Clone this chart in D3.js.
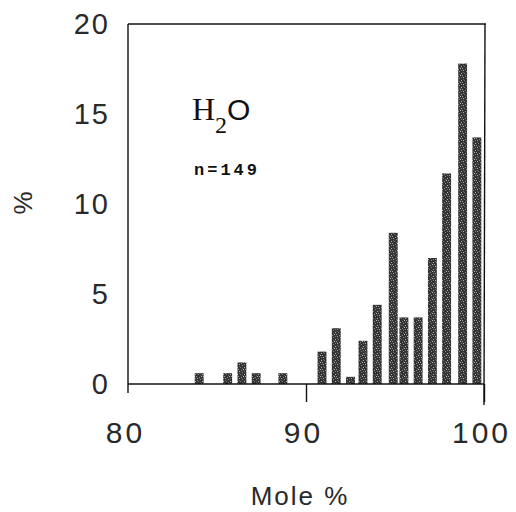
<!DOCTYPE html>
<html>
<head>
<meta charset="utf-8">
<script src="https://cdn.jsdelivr.net/npm/d3@7"></script>
<style>
  body { margin: 0; background: #fff; }
  svg { display: block; }
</style>
</head>
<body>
<div id="chart"></div>
<script>
// bin centres (mole % H2O) and frequency (% of analyses)
var binCenters = [84.0, 85.6, 86.4, 87.2, 88.7, 90.9, 91.7, 92.5, 93.2, 94.0, 94.9, 95.5, 96.3, 97.1, 97.9, 98.8, 99.6];
var frequency  = [0.6, 0.6, 1.2, 0.6, 0.6, 1.8, 3.1, 0.4, 2.4, 4.4, 8.4, 3.7, 3.7, 7.0, 11.7, 17.8, 13.7];
var xTicks = [80, 90, 100];
var yTicks = [0, 5, 10, 15, 20];
var sampleLabel = "n=149";

var width = 516, height = 512;
// plot frame (note: "top" is taken by window.top, so prefix these)
var plotLeft = 128, plotRight = 484, plotTop = 24, plotBottom = 384;
var sans = "Liberation Sans, Arial, sans-serif";

var svg = d3.select("#chart").append("svg")
    .attr("width", width)
    .attr("height", height);

var x = d3.scaleLinear().domain([80, 100]).range([plotLeft, plotRight]);
var y = d3.scaleLinear().domain([0, 20]).range([plotBottom, plotTop]);

// speckled grey fill, like the scanned bars
var defs = svg.append("defs");
var pat = defs.append("pattern")
    .attr("id", "speckle")
    .attr("width", 7).attr("height", 7)
    .attr("patternUnits", "userSpaceOnUse");
pat.append("rect").attr("width", 7).attr("height", 7).attr("fill", "#333");
[[1, 0, "#aaa"], [4, 1, "#888"], [6, 3, "#b0b0b0"], [2, 3, "#777"], [0, 5, "#999"],
 [5, 5, "#bbb"], [3, 6, "#8a8a8a"], [1, 2, "#666"], [6, 0, "#777"], [4, 4, "#606060"]]
    .forEach(function(p) {
        pat.append("rect").attr("x", p[0]).attr("y", p[1])
            .attr("width", 1).attr("height", 1).attr("fill", p[2]);
    });

var barW = x(80.5) - x(80);

svg.selectAll("rect.bar")
    .data(binCenters)
    .enter().append("rect")
    .attr("class", "bar")
    .attr("x", function(d) { return x(d) - barW / 2; })
    .attr("y", function(d, i) { return y(frequency[i]); })
    .attr("width", barW)
    .attr("height", function(d, i) { return y(0) - y(frequency[i]); })
    .attr("fill", "url(#speckle)");

// frame: top, left, right lines and the baseline
var line = svg.append("g").attr("stroke", "#111").attr("stroke-width", 1.4).attr("fill", "none");
line.append("line").attr("x1", plotLeft).attr("x2", plotRight + 2).attr("y1", plotTop).attr("y2", plotTop);
line.append("line").attr("x1", plotLeft).attr("x2", plotLeft).attr("y1", plotTop).attr("y2", plotBottom + 9);
line.append("line").attr("x1", plotRight + 1).attr("x2", plotRight).attr("y1", plotTop).attr("y2", plotBottom + 21);
line.append("line").attr("x1", plotLeft).attr("x2", plotRight).attr("y1", plotBottom).attr("y2", plotBottom);

// x ticks hang below the baseline
var xAxis = d3.axisBottom(x).tickValues(xTicks).tickSize(18).tickPadding(20).tickFormat(d3.format("d"));
var gx = svg.append("g").attr("transform", "translate(0," + plotBottom + ")").call(xAxis);
gx.select(".domain").remove();
gx.selectAll(".tick line").attr("stroke", "#111").attr("stroke-width", 1.4);
gx.selectAll(".tick").filter(function(d) { return d === 80; }).select("line").remove();
gx.selectAll(".tick text")
    .attr("font-family", sans)
    .attr("font-size", 30)
    .attr("letter-spacing", 3)
    .attr("fill", "#2a2a2a")
    .attr("dx", -3);

var yAxis = d3.axisLeft(y).tickValues(yTicks).tickSize(0).tickPadding(18);
var gy = svg.append("g").attr("transform", "translate(" + plotLeft + ",0)").call(yAxis);
gy.select(".domain").remove();
gy.selectAll(".tick text")
    .attr("font-family", sans)
    .attr("font-size", 29)
    .attr("letter-spacing", 2)
    .attr("fill", "#2a2a2a");

// axis titles
svg.append("text")
    .attr("x", 300).attr("y", 505)
    .attr("text-anchor", "middle")
    .attr("font-family", sans)
    .attr("font-size", 26)
    .attr("letter-spacing", 2)
    .attr("fill", "#2a2a2a")
    .text("Mole %");

svg.append("text")
    .attr("transform", "translate(23,203) rotate(-90)")
    .attr("text-anchor", "middle")
    .attr("dominant-baseline", "central")
    .attr("font-family", sans)
    .attr("font-size", 26)
    .attr("fill", "#2a2a2a")
    .text("%");

// species label
var title = svg.append("text")
    .attr("x", 192).attr("y", 120)
    .attr("font-family", "Liberation Serif, serif")
    .attr("font-size", 32)
    .attr("fill", "#111");
title.append("tspan").text("H");
title.append("tspan").attr("font-size", 24).attr("dy", 13).text("2");
title.append("tspan").attr("font-family", sans).attr("font-size", 30).attr("dy", -13).text("O");

svg.append("text")
    .attr("x", 194).attr("y", 175)
    .attr("font-family", "Liberation Mono, monospace")
    .attr("font-weight", "bold")
    .attr("font-size", 17)
    .attr("letter-spacing", 3)
    .attr("fill", "#111")
    .text(sampleLabel);
</script>
</body>
</html>
